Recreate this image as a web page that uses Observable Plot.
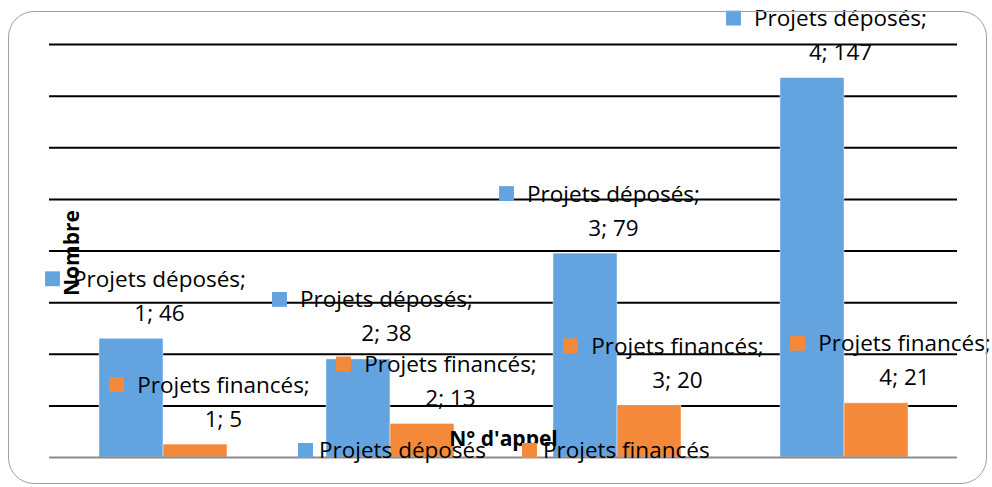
<!DOCTYPE html>
<html>
<head>
<meta charset="utf-8">
<script src="https://cdn.jsdelivr.net/npm/d3@7"></script>
<script src="https://cdn.jsdelivr.net/npm/@observablehq/plot@0.6"></script>
<style>
  html, body { margin: 0; padding: 0; background: #fff; }
  #wrap { position: relative; width: 992px; height: 487px; overflow: hidden; font-family: "Open Sans", sans-serif; }
  #border { position: absolute; left: 8px; top: 11px; width: 977px; height: 471px; border: 1px solid #a0a0a0; border-radius: 26px; pointer-events: none; }
  #chart { position: absolute; left: 0; top: 0; }
  #legend { position: absolute; left: 298px; top: 439px; line-height: 1; }
  .lg-swatches { font-family: "Open Sans", sans-serif !important; font-size: 22.5px !important; color: #000 !important; min-height: 0 !important; margin: 0 !important; line-height: 1 !important; }
  .lg-swatch { margin-right: 36px !important; }
  .lg-swatch > svg { margin-right: 6px !important; }
</style>
</head>
<body>
<div id="wrap">
  <div id="chart"></div>
  <div id="legend"></div>
  <div id="border"></div>
</div>
<script>
// ---- data ----
const groups = [1, 2, 3, 4];
const seriesNames = ["Projets déposés", "Projets financés"];
const deposes = [46, 38, 79, 147];
const finances = [5, 13, 20, 21];
const yTicks = [20, 40, 60, 80, 100, 120, 140, 160];
const colors = ["#63A3E0", "#F5893A"];
const xTitle = "N° d'appel";
const yTitle = "Nombre";

const rows = [];
groups.forEach((g, i) => {
  rows.push({group: g, series: seriesNames[0], value: deposes[i]});
  rows.push({group: g, series: seriesNames[1], value: finances[i]});
});

const fontSize = 22.5;

const chart = Plot.plot({
  width: 992,
  height: 487,
  marginLeft: 49,
  marginRight: 35,
  marginTop: 44,
  marginBottom: 30,
  style: {fontFamily: "Open Sans, sans-serif", background: "transparent", color: "#000"},
  fx: {domain: groups, padding: 0, axis: null},
  x: {domain: seriesNames, paddingInner: 0, paddingOuter: 0.748, axis: null},
  y: {domain: [0, 160], axis: null},
  color: {domain: seriesNames, range: colors},
  marks: [
    Plot.ruleY(yTicks, {stroke: "#000", strokeWidth: 2}),
    Plot.barY(rows, {fx: "group", x: "series", y: "value", fill: "series", stroke: "#ffffff", strokeOpacity: 0.55, strokeWidth: 0.8}),
    Plot.ruleY([0], {stroke: "#8c8c8c", strokeWidth: 2}),
    Plot.dot(rows, {fx: "group", x: "series", y: "value", symbol: "square", r: 8.4, fill: "series", stroke: null, dx: -79, dy: -60}),
    Plot.text(rows, {
      fx: "group", x: "series", y: "value",
      text: d => `${d.series};\n${d.group}; ${d.value}`,
      dx: 28, dy: -18, lineAnchor: "bottom", lineHeight: 1.51,
      fontSize, fill: "#000"
    }),
    Plot.text([xTitle], {frameAnchor: "bottom", dy: -12, lineAnchor: "bottom", fontWeight: "bold", fontSize: 21, fill: "#000", facet: "super"}),
    Plot.text([yTitle], {frameAnchor: "left", rotate: -90, dx: 29, dy: 45, lineAnchor: "bottom", fontWeight: "bold", fontSize: 21, fill: "#000", facet: "super"})
  ]
});
document.getElementById("chart").appendChild(chart);

const legend = Plot.legend({
  color: {domain: seriesNames, range: colors},
  legend: "swatches",
  swatchSize: 15,
  className: "lg"
});
document.getElementById("legend").appendChild(legend);
</script>
</body>
</html>
